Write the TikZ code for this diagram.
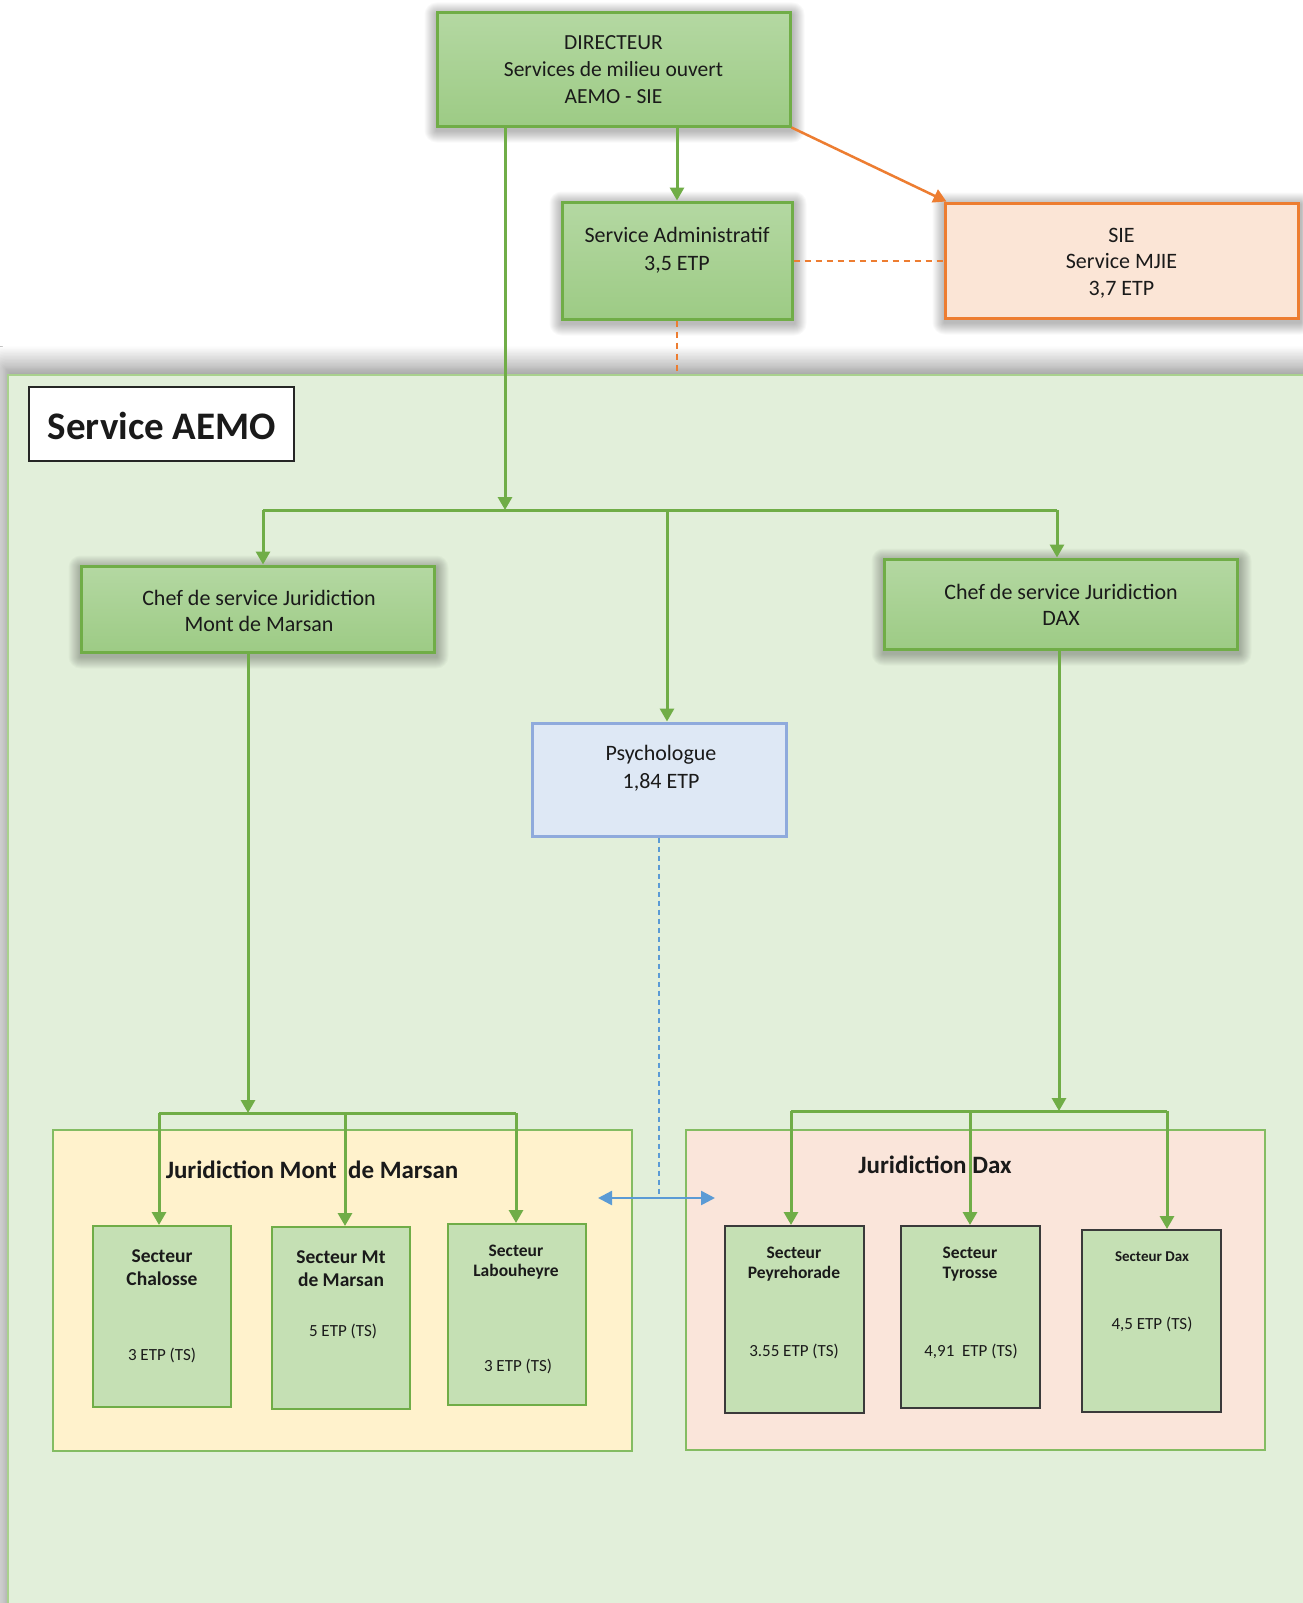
\documentclass[tikz,border=0pt]{standalone}
\usepackage{fontspec}
\setmainfont{Carlito}
\usetikzlibrary{arrows.meta,shadows.blur,calc}
\definecolor{gline}{HTML}{70AD47}
\definecolor{gtop}{HTML}{B4D8A2}
\definecolor{gbot}{HTML}{9DCB85}
\definecolor{oline}{HTML}{ED7D31}
\definecolor{ofill}{HTML}{FBE5D6}
\definecolor{bline}{HTML}{8FAADC}
\definecolor{bfill}{HTML}{DEE8F5}
\definecolor{barrow}{HTML}{5B9BD5}
\definecolor{pfill}{HTML}{E2EFDA}
\definecolor{pline}{HTML}{A9D18E}
\definecolor{yfill}{HTML}{FFF2CC}
\definecolor{dfill}{HTML}{FAE5DA}
\definecolor{jline}{HTML}{84BC62}
\definecolor{sfill}{HTML}{C5E0B4}
\definecolor{dkline}{HTML}{3A3A3A}
\definecolor{txtc}{HTML}{1A1A1A}
\newcommand\fsz[2]{\fontsize{#1}{#2}\selectfont}
\newcommand\softshadow[1]{%
  \foreach \k in {1,...,12}{%
    \fill[black, opacity=0.022, rounded corners=\k pt]
      ([xshift=-\k pt+1pt, yshift=-\k pt-3pt]#1.south west) rectangle
      ([xshift=\k pt+1pt, yshift=\k pt-3pt]#1.north east);}}
\pgfdeclarelayer{bg}
\pgfdeclarelayer{sh}
\pgfsetlayers{bg,sh,main}
\begin{document}
\begin{tikzpicture}[x=1pt,y=-1pt,
  gbox/.style={draw=gline, line width=3pt, top color=gtop, bottom color=gbot},
  obox/.style={draw=oline, line width=3pt, fill=ofill},
  bbox/.style={draw=bline, line width=3pt, fill=bfill},
  panel/.style={draw=pline, line width=1.5pt, fill=pfill,
     blur shadow={shadow xshift=-3pt, shadow yshift=7pt, shadow blur radius=22pt, shadow blur steps=16, shadow opacity=50}},
  jbox/.style={draw=jline, line width=2pt},
  sbox/.style={fill=sfill, draw=gline, line width=2pt},
  sboxd/.style={fill=sfill, draw=dkline, line width=2pt},
  txt/.style={inner sep=0pt, align=center, text=txtc},
  conn/.style={draw=gline, line width=3pt},
  arr/.style={conn, -{Triangle[width=14pt,length=13pt]}},
  oarr/.style={draw=oline, line width=2.5pt, -{Triangle[width=14pt,length=13pt]}},
  odash/.style={draw=oline, line width=2pt, dash pattern=on 6pt off 5pt},
  bdash/.style={draw=barrow, line width=1.8pt, dash pattern=on 5pt off 4pt},
  barr/.style={draw=barrow, line width=2.5pt, {Triangle[width=14pt,length=14pt]}-{Triangle[width=14pt,length=14pt]}}
]
\useasboundingbox (0,0) rectangle (1302,1603);
\begin{pgfonlayer}{bg}
\fill[white] (0,0) rectangle (1302,1603);
% ---- main panel
\node[panel, inner sep=0pt, minimum width=1312pt, minimum height=1245pt] (panel) at (664,997.5) {};
\end{pgfonlayer}

% ---- top boxes
\node[gbox, inner sep=0pt, minimum width=353pt, minimum height=113pt] (DIR) at (613.5,69.5) {};
\node[txt, font=\fsz{21.5}{27}] (DIRt) at (613.5,70) {DIRECTEUR\\Services de milieu ouvert\\AEMO - SIE};

\node[gbox, inner sep=0pt, minimum width=230pt, minimum height=117pt] (ADM) at (677,260.5) {};
\node[txt, font=\fsz{22}{28}] (ADMt) at (677,250) {Service Administratif\\3,5 ETP};

\node[obox, inner sep=0pt, minimum width=353pt, minimum height=115pt] (SIE) at (1121.5,260.5) {};
\node[txt, font=\fsz{22}{26.5}] (SIEt) at (1121.5,263) {SIE\\Service MJIE\\3,7 ETP};

% ---- title
\node[draw=black!85, line width=1.5pt, fill=white, inner sep=0pt, minimum width=265pt, minimum height=74pt] (AEMO) at (161.5,424) {};
\node[txt, font=\fsz{39}{44}\bfseries] (AEMOt) at (162,426) {Service AEMO};

% ---- chefs and psychologue
\node[gbox, inner sep=0pt, minimum width=353pt, minimum height=86pt] (CMdM) at (257.5,609) {};
\node[txt, font=\fsz{22}{26}] (CMdMt) at (259,611) {Chef de service Juridiction\\Mont de Marsan};

\node[gbox, inner sep=0pt, minimum width=353pt, minimum height=90pt] (CDAX) at (1060.5,604) {};
\node[txt, font=\fsz{22}{26}] (CDAXt) at (1061,605) {Chef de service Juridiction\\DAX};

\node[bbox, inner sep=0pt, minimum width=254pt, minimum height=113pt] (PSY) at (659,779.5) {};
\node[txt, font=\fsz{22}{28}] (PSYt) at (661,768) {Psychologue\\1,84 ETP};

\begin{pgfonlayer}{sh}
\softshadow{DIR}
\softshadow{ADM}
\softshadow{SIE}
\softshadow{CMdM}
\softshadow{CDAX}
\end{pgfonlayer}

% ---- juridictions
\node[jbox, fill=yfill, inner sep=0pt, minimum width=579pt, minimum height=321pt] (JMdM) at (342.5,1290.5) {};
\node[txt, font=\fsz{25}{30}\bfseries] (JMdMt) at (312,1170) {Juridiction Mont\ \ de Marsan};
\node[jbox, fill=dfill, inner sep=0pt, minimum width=579pt, minimum height=320pt] (JDax) at (975.5,1290) {};
\node[txt, font=\fsz{25}{30}\bfseries] (JDaxt) at (935,1165) {Juridiction Dax};

% ---- secteurs
\node[sbox, inner sep=0pt, minimum width=138pt, minimum height=181pt] (S1) at (162,1316.5) {};
\node[txt, font=\fsz{19.5}{23}\bfseries] (S1t) at (162,1267.5) {Secteur\\Chalosse};
\node[txt, font=\fsz{17}{20}] (S1e) at (162,1355) {3 ETP (TS)};

\node[sbox, inner sep=0pt, minimum width=138pt, minimum height=182pt] (S2) at (341,1318) {};
\node[txt, font=\fsz{19.5}{23}\bfseries] (S2t) at (341,1268.5) {Secteur Mt\\de Marsan};
\node[txt, font=\fsz{17}{20}] (S2e) at (343,1331) {5 ETP (TS)};

\node[sbox, inner sep=0pt, minimum width=138pt, minimum height=181pt] (S3) at (517,1314.5) {};
\node[txt, font=\fsz{17.5}{20.5}\bfseries] (S3t) at (516,1262) {Secteur\\Labouheyre};
\node[txt, font=\fsz{17}{20}] (S3e) at (518,1366) {3 ETP (TS)};

\node[sboxd, inner sep=0pt, minimum width=139pt, minimum height=187pt] (S4) at (794.5,1319.5) {};
\node[txt, font=\fsz{17.5}{20.5}\bfseries] (S4t) at (794,1264) {Secteur\\Peyrehorade};
\node[txt, font=\fsz{17}{20}] (S4e) at (794,1351) {3.55 ETP (TS)};

\node[sboxd, inner sep=0pt, minimum width=139pt, minimum height=182pt] (S5) at (970.5,1317) {};
\node[txt, font=\fsz{17.5}{20.5}\bfseries] (S5t) at (970,1264) {Secteur\\Tyrosse};
\node[txt, font=\fsz{17}{20}] (S5e) at (971,1351) {4,91\ \ ETP (TS)};

\node[sboxd, inner sep=0pt, minimum width=139pt, minimum height=182pt] (S6) at (1151.5,1321) {};
\node[txt, font=\fsz{15}{18}\bfseries] (S6t) at (1152,1257) {Secteur Dax};
\node[txt, font=\fsz{17}{20}] (S6e) at (1152,1324) {4,5 ETP (TS)};

% ---- coordinates
\coordinate (b0) at (505,510);
\coordinate (bL) at (263,510);
\coordinate (bC) at (667,510);
\coordinate (bR) at (1057,510);
\coordinate (mb) at (248,1113);
\coordinate (m1) at (159,1113);
\coordinate (m2) at (345,1113);
\coordinate (m3) at (516,1113);
\coordinate (db) at (1059,1111);
\coordinate (d1) at (791,1111);
\coordinate (d2) at (970,1111);
\coordinate (d3) at (1167,1111);
\coordinate (pb) at (659,1196);
\coordinate (aL) at (598,1198);
\coordinate (aR) at (715,1198);

% ---- connectors
\draw[arr] (DIR.south -| b0) -- (b0);
\draw[arr] (DIR.south -| ADM.north) -- (ADM.north);
\draw[oarr] (DIR.south east) -- ([xshift=3pt]SIE.north west);
\draw[odash] (ADM.east) -- (SIE.west);
\draw[odash] (ADM.south) -- (ADM.south |- panel.north);

\draw[conn] (bL) -- (bR);
\draw[arr] (bL) -- (CMdM.north -| bL);
\draw[arr] (bR) -- (CDAX.north -| bR);
\draw[arr] (bC) -- (PSY.north -| bC);

\draw[arr] (CMdM.south -| mb) -- (mb);
\draw[conn] (m1) -- (m3);
\draw[arr] (m1) -- (S1.north -| m1);
\draw[arr] (m2) -- (S2.north -| m2);
\draw[arr] (m3) -- (S3.north -| m3);

\draw[arr] (CDAX.south -| db) -- (db);
\draw[conn] (d1) -- (d3);
\draw[arr] (d1) -- (S4.north -| d1);
\draw[arr] (d2) -- (S5.north -| d2);
\draw[arr] (d3) -- (S6.north -| d3);

\draw[bdash] (PSY.south -| pb) -- (pb);
\draw[barr] (aL) -- (aR);
\end{tikzpicture}
\end{document}
